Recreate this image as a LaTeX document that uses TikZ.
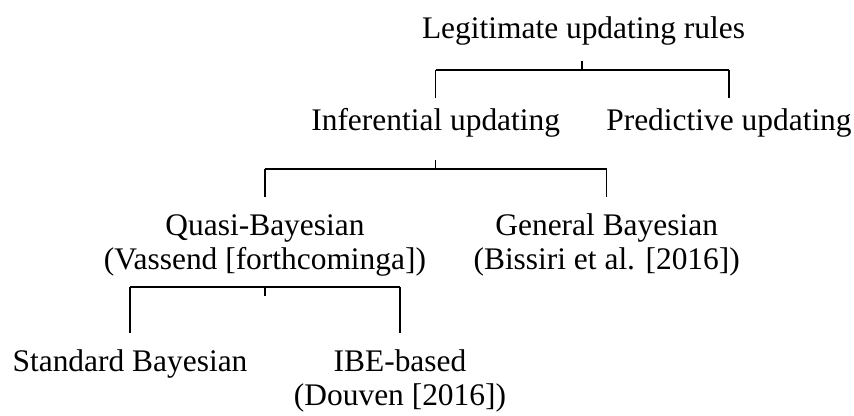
\documentclass[tikz,border=0pt]{standalone}
\usepackage{fontspec}
\setmainfont{Liberation Serif}
\begin{document}
\begin{tikzpicture}[x=0.3pt,y=-0.3pt,
  lbl/.style={font=\fontsize{9.43}{10.2}\selectfont, inner sep=0pt, anchor=base},
  conn/.style={line width=0.35pt, draw=black}]
\useasboundingbox (0,0) rectangle (854,415);
% nodes
\node[lbl] (root) at (583.5,38) {Legitimate updating rules};
\node[lbl] (inf) at (435.7,130) {Inferential updating};
\node[lbl] (pred) at (729,130) {Predictive updating};
\node[lbl] (quasi) at (265,235) {Quasi-Bayesian};
\node[lbl] (quasiref) at (265,269) {(Vassend [forthcominga])};
\node[lbl] (gen) at (606.7,235) {General Bayesian};
\node[lbl] (genref) at (606.7,269) {(Bissiri et al. [2016])};
\node[lbl] (std) at (130,371) {Standard Bayesian};
\node[lbl] (ibe) at (400,371) {IBE-based};
\node[lbl] (iberef) at (400,405) {(Douven [2016])};
% level 1
\coordinate (r-out) at (582,61);
\coordinate (j1) at (582,70);
\draw[conn] (r-out) -- (j1);
\draw[conn] (inf |- j1) -- (pred |- j1);
\draw[conn] (inf |- j1) -- ++(0,28.3);
\draw[conn] (pred |- j1) -- ++(0,28.3);
% level 2
\coordinate (i-out) at (435.7,160);
\coordinate (j2) at (435.7,169);
\draw[conn] (i-out) -- (j2);
\draw[conn] (quasi |- j2) -- (gen |- j2);
\draw[conn] (quasi |- j2) -- ++(0,28);
\draw[conn] (gen |- j2) -- ++(0,28);
% level 3
\coordinate (j3) at (265,287);
\coordinate (q-out) at (265,296);
\draw[conn] (q-out) -- (j3);
\draw[conn] (std |- j3) -- (ibe |- j3);
\draw[conn] (std |- j3) -- ++(0,46);
\draw[conn] (ibe |- j3) -- ++(0,46);
\end{tikzpicture}
\end{document}
